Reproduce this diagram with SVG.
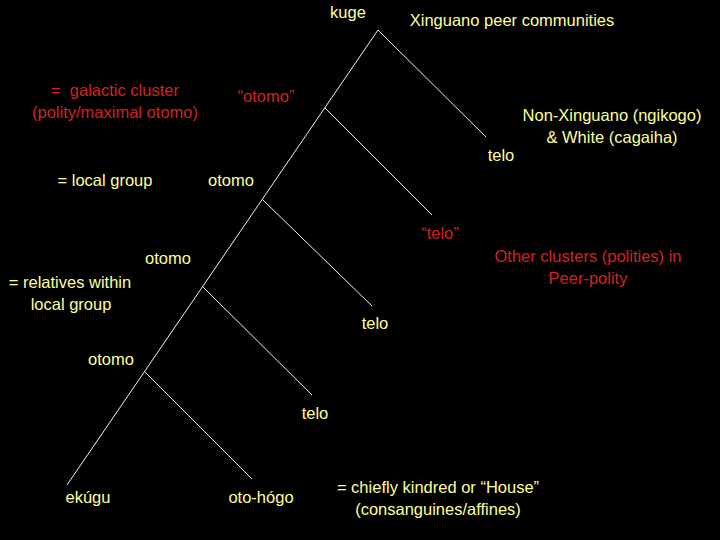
<svg xmlns="http://www.w3.org/2000/svg" width="720" height="540" viewBox="0 0 720 540">
<style>
text{font-family:"Liberation Sans",Arial,sans-serif;font-size:16.5px;text-anchor:middle}
.y{fill:#ffff99}
.r{fill:#d42222}
.ln{stroke:#f2f2f2;stroke-width:1;fill:none}
</style>
<rect width="720" height="540" fill="#000"/>
<g id="connectors">
<line class="ln" x1="378" y1="30" x2="67" y2="485"/>
<line class="ln" x1="378" y1="30" x2="486" y2="137"/>
<line class="ln" x1="325" y1="108" x2="432" y2="215"/>
<line class="ln" x1="263" y1="200" x2="372" y2="306"/>
<line class="ln" x1="203" y1="287" x2="312" y2="395"/>
<line class="ln" x1="145" y1="372" x2="252" y2="479"/>
</g>
<g id="kuge"><text class="y" x="348" y="18">kuge</text></g>
<g id="xinguano"><text class="y" x="512" y="26">Xinguano peer communities</text></g>
<g id="galactic"><text class="r" x="115" y="96">=&#160; galactic cluster</text><text class="r" x="115" y="118">(polity/maximal otomo)</text></g>
<g id="otomo-q"><text class="r" x="266" y="102">“otomo”</text></g>
<g id="nonxinguano"><text class="y" x="612" y="121">Non-Xinguano (ngikogo)</text><text class="y" x="612" y="143">&amp; White (cagaiha)</text></g>
<g id="telo1"><text class="y" x="501" y="161">telo</text></g>
<g id="localgroup"><text class="y" x="105" y="186">= local group</text></g>
<g id="otomo1"><text class="y" x="231" y="186">otomo</text></g>
<g id="telo-q"><text class="r" x="440" y="239">“telo”</text></g>
<g id="otomo2"><text class="y" x="168" y="264">otomo</text></g>
<g id="otherclusters"><text class="r" x="588" y="262">Other clusters (polities) in</text><text class="r" x="588" y="284">Peer-polity</text></g>
<g id="relatives"><text class="y" x="70" y="288">= relatives within</text><text class="y" x="71" y="310">local group</text></g>
<g id="telo2"><text class="y" x="375" y="329">telo</text></g>
<g id="otomo3"><text class="y" x="111" y="365">otomo</text></g>
<g id="telo3"><text class="y" x="315" y="419">telo</text></g>
<g id="ekugu"><text class="y" x="88" y="503">ekúgu</text></g>
<g id="otohogo"><text class="y" x="261" y="503">oto-hógo</text></g>
<g id="chiefly"><text class="y" x="438" y="493">= chiefly kindred or “House”</text><text class="y" x="438" y="515">(consanguines/affines)</text></g>
</svg>
